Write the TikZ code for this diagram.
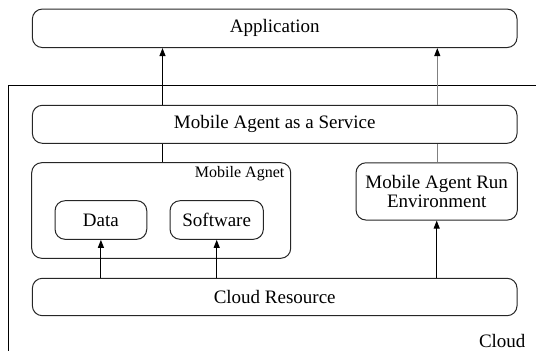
\documentclass[tikz,border=0pt]{standalone}
\usepackage{fontspec}
\setmainfont{Liberation Serif}
\usetikzlibrary{arrows.meta}
\begin{document}
\begin{tikzpicture}[x=1pt,y=-1pt,
  layer/.style={draw=black!85, line width=1pt, rounded corners=10pt,
    inner sep=0pt, font=\fontsize{19}{19}\selectfont, align=center},
  link/.style={line width=1pt, draw=black},
  faint/.style={line width=1pt, draw=black!50},
  up/.style={-{Triangle[length=8pt,width=6pt,color=black]}}]
\useasboundingbox (0,0) rectangle (536,351);

% Cloud frame (top and left edges)
\coordinate (fbl) at (8.3,351);
\coordinate (ftl) at (8.3,85.7);
\coordinate (ftr) at (536,85.7);
\draw[line width=1pt] (fbl) -- (ftl) -- (ftr);
\node[font=\fontsize{19}{19}\selectfont, anchor=east] (cloud) at (529,341) {Cloud};

% Layers
\node[layer, minimum width=484.7pt, minimum height=38.5pt] (app) at (274.7,28.3) {Application};
\node[layer, minimum width=484.7pt, minimum height=38pt] (maas) at (274.7,124.3) {Mobile Agent as a Service};
\node[layer, minimum width=259pt, minimum height=95.6pt] (ma) at (161.2,210.5) {};
\node[font=\fontsize{16}{16}\selectfont, anchor=east, inner sep=0pt] (malabel) at (284.5,173.3) {Mobile Agnet};
\node[layer, minimum width=91.7pt, minimum height=38.6pt] (data) at (100.9,220) {Data};
\node[layer, minimum width=93.3pt, minimum height=38.6pt] (soft) at (216.7,220) {Software};
\node[layer, minimum width=161.3pt, minimum height=57.3pt] (mare) at (436.7,191.4)
  {\fontsize{19}{18.5}\selectfont Mobile Agent Run\\Environment};
\node[layer, minimum width=484.7pt, minimum height=37.4pt] (cr) at (274.7,297) {Cloud Resource};

% Connectors
\draw[link, up] (maas.north -| 162.5,0) -- (app.south -| 162.5,0);
\draw[faint, up] (maas.north -| 437.3,0) -- (app.south -| 437.3,0);
\draw[link] (maas.south -| 162.5,0) -- (ma.north -| 162.5,0);
\draw[faint] (maas.south -| 437.3,0) -- (mare.north -| 437.3,0);
\draw[link, up] (cr.north -| data) -- (data.south);
\draw[link, up] (cr.north -| soft) -- (soft.south);
\draw[link, up] (cr.north -| mare) -- (mare.south);
\end{tikzpicture}
\end{document}
